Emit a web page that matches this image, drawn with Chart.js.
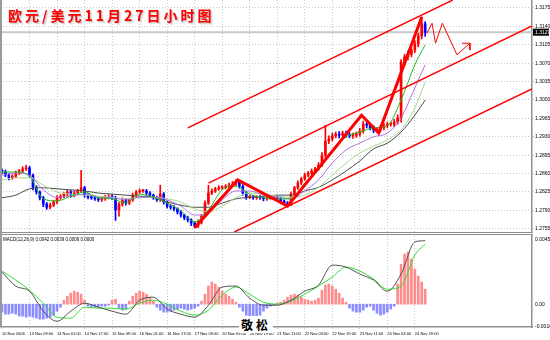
<!DOCTYPE html>
<html>
<head>
<meta charset="utf-8">
<script src="https://cdn.jsdelivr.net/npm/chart.js@4.4.0/dist/chart.umd.min.js"></script>
<style>
body { margin:0; background:#fff; width:550px; height:340px; overflow:hidden; position:relative; }
#main { position:absolute; left:0; top:0; }
#macd { position:absolute; left:0; top:235px; }
.sep { position:absolute; left:0; width:533px; height:1px; background:#8c8c8c; }
#leftline { position:absolute; left:0; top:0; width:2px; height:327px; background:#9a9a9a; }
#title { position:absolute; left:8px; top:5px; color:#f00; font:bold 14px "Noto Sans CJK SC"; letter-spacing:3px; text-shadow:1px 1px 0 #ccc, 2px 2px 1px #e4e4e4; }
#mark { position:absolute; left:239px; top:316px; font:bold 12px "Noto Sans CJK SC"; letter-spacing:3px; background:#fff; padding:0 2px; }
</style>
</head>
<body>
<canvas id="main" width="550" height="232"></canvas>
<div class="sep" style="top:232px"></div>
<div class="sep" style="top:234px"></div>
<canvas id="macd" width="550" height="105"></canvas>
<div id="leftline"></div>
<div id="title">欧元/美元11月27日小时图</div>
<div id="mark">敬松</div>
<script>
// hourly bar index of each tick label
const xTickBars = [0,16,32,48,64,80,96,112,128,144,160,176,192,208,224,240];
const xLabels = ['10 Nov 2006','13 Nov 09:00','14 Nov 01:00','14 Nov 17:00','15 Nov 09:00','16 Nov 01:00',
  '16 Nov 17:00','17 Nov 09:00','20 Nov 03:00','20 Nov 19:00','21 Nov 11:00','22 Nov 03:00',
  '22 Nov 19:00','23 Nov 11:00','24 Nov 03:00','24 Nov 19:00'];
const yTicks = [1.2755,1.2790,1.2825,1.2860,1.2895,1.2930,1.2965,1.3000,1.3035,1.3070,1.3105,1.3140,1.3175];
const macdTicks = [0.0045, 0, -0.0016];

// candles, one every 2 bars
const firstOpen = 1.2866;
const closes = [1.2863,1.2857,1.2852,1.2855,1.2861,1.2865,1.2869,1.2871,1.2857,1.2834,
 1.2825,1.2814,1.2802,1.2796,1.2800,1.2806,1.2814,1.2817,1.2821,1.2825,
 1.2819,1.2823,1.2827,1.2833,1.2819,1.2815,1.2814,1.2812,1.2810,1.2812,
 1.2815,1.2817,1.2814,1.2791,1.2802,1.2810,1.2804,1.2810,1.2819,1.2825,
 1.2827,1.2827,1.2823,1.2819,1.2814,1.2810,1.2821,1.2806,1.2798,1.2796,
 1.2793,1.2787,1.2781,1.2776,1.2772,1.2766,1.2760,1.2768,1.2779,1.2804,
 1.2823,1.2827,1.2831,1.2833,1.2834,1.2836,1.2838,1.2840,1.2844,1.2836,
 1.2823,1.2815,1.2815,1.2814,1.2815,1.2814,1.2812,1.2814,1.2814,1.2815,
 1.2812,1.2808,1.2804,1.2802,1.2821,1.2833,1.2842,1.2850,1.2857,1.2861,
 1.2865,1.2869,1.2876,1.2895,1.2922,1.2926,1.2932,1.2935,1.2933,1.2937,
 1.2933,1.2932,1.2933,1.2935,1.2941,1.2954,1.2952,1.2947,1.2943,1.2943,
 1.2947,1.2951,1.2954,1.2954,1.2958,1.2966,1.3072,1.3082,1.3087,1.3095,
 1.3107,1.3122,1.3145,1.3129];
// wick lengths in pips above / below the body
const wickUp = [3,4,3,3,4,3,4,5,3,2, 3,2,3,3,4,3,4,3,3,4, 3,4,3,33,3,3,2,3,3,3,
 4,3,3,3,3,4,3,3,4,3, 4,3,3,3,2,3,17,3,2,3, 3,2,3,2,3,2,3,4,3,4,
 15,4,3,4,3,3,4,5,4,3, 3,3,4,3,3,3,2,3,3,3, 3,3,2,3,4,3,4,3,4,3,
 4,3,5,5,30,6,5,4,5,4, 4,5,4,4,5,6,5,4,4,4, 4,5,4,4,5,6,5,5,6,5, 6,5,13,4];
const wickDown = [3,3,4,3,3,3,3,3,4,5, 4,4,5,4,3,3,3,3,3,3, 4,3,3,3,4,3,3,3,3,3,
 3,3,3,20,12,4,4,3,3,3, 3,3,4,3,3,3,3,4,4,4, 4,4,4,4,4,5,3,3,4,3,
 3,3,3,3,3,3,3,3,3,4, 4,4,3,3,3,3,4,3,3,3, 3,3,4,3,3,3,3,3,3,3,
 3,3,3,3,4,5,4,4,5,4, 4,4,5,4,4,4,5,4,5,4, 4,4,4,4,5,4,8,6,6,5, 5,6,6,8];

// moving averages, read every 8 bars
const maBars = [0,8,16,24,32,40,48,56,64,72,80,88,96,104,112,120,128,136,144,152,160,168,176,184,192,200,208,216,224,232,240,246];
const maFast = [1.2863,1.2863,1.2855,1.2812,1.2808,1.2817,1.2825,1.2814,1.2812,1.2804,1.2821,1.2815,1.2804,1.2789,1.2768,1.2791,
 1.2829,1.2836,1.2821,1.2814,1.2812,1.2812,1.2842,1.2867,1.2905,1.2930,1.2939,1.2947,1.2951,1.3000,1.3067,1.3105];
const maPurple = [1.2857,1.2861,1.2857,1.2829,1.2815,1.2817,1.2821,1.2815,1.2814,1.2810,1.2815,1.2815,1.2810,1.2798,1.2781,1.2785,
 1.2810,1.2827,1.2827,1.2819,1.2815,1.2812,1.2827,1.2848,1.2880,1.2905,1.2918,1.2930,1.2937,1.2966,1.3023,1.3067];
const maLight = [1.2848,1.2852,1.2852,1.2838,1.2825,1.2821,1.2819,1.2817,1.2815,1.2812,1.2814,1.2815,1.2812,1.2806,1.2793,1.2787,
 1.2798,1.2814,1.2823,1.2821,1.2817,1.2815,1.2819,1.2834,1.2857,1.2880,1.2899,1.2912,1.2924,1.2943,1.2985,1.3034];
const maSlow = [1.2814,1.2819,1.2831,1.2833,1.2831,1.2829,1.2827,1.2823,1.2821,1.2819,1.2817,1.2815,1.2806,1.2800,1.2796,1.2796,
 1.2804,1.2812,1.2815,1.2817,1.2819,1.2819,1.2827,1.2834,1.2848,1.2865,1.2884,1.2907,1.2918,1.2939,1.2971,1.3000];

// hand drawn analysis lines: [bar, price]
const channelUpper = [[108,1.2947],[262,1.3190]];
const channelMid = [[120,1.2842],[308.1,1.3141]];
const channelLower = [[135,1.2749],[308.1,1.3021]];
const zigzag = [[112,1.2757],[137,1.2848],[166,1.2798],[209,1.2971],[219,1.2937],[244,1.3158]];
const forecast = [[247,1.3127],[250,1.3146],[252,1.3108],[256,1.3146],[264.5,1.3086],[272,1.3108]];
const arrowHead = [[267.5,1.3108],[272,1.3108],[272,1.3095]];

// MACD(12,26,9)
const macdLine = [0.00225,0.00127,0.00091,-0.00049,-0.00120,-0.00049,0.00007,-0.00021,-0.00049,-0.00070,0.00028,0.00049,-0.00035,-0.00070,-0.00091,-0.00007,
 0.00120,0.00127,0.00042,-0.00007,-0.00007,0.00028,0.00091,0.00134,0.00274,0.00260,0.00211,0.00169,0.00091,0.00211,0.00436,0.00445];
const signalLine = [0.00232,0.00169,0.00098,0.00007,-0.00091,-0.00098,-0.00021,-0.00028,-0.00028,-0.00035,0.00007,0.00028,0,-0.00049,-0.00077,-0.00042,
 0.00063,0.00120,0.00070,0.00014,0,0.00021,0.00070,0.00127,0.00190,0.00260,0.00232,0.00176,0.00105,0.00127,0.00345,0.00420];
const hist = [-0.00056,-0.00070,-0.00070,-0.00063,-0.00070,-0.00084,-0.00084,-0.00091,-0.00084,-0.00091,
 -0.00098,-0.00105,-0.00105,-0.00098,-0.00091,-0.00077,-0.00049,-0.00021,0.00028,0.00056,
 0.00077,0.00091,0.00084,0.00070,0.00028,-0.00014,-0.00021,-0.00021,-0.00021,-0.00014,
 -0.00014,-0.00007,0.00028,0.00035,-0.00028,-0.00042,-0.00035,0.00021,0.00056,0.00077,
 0.00091,0.00084,0.00070,0.00049,0.00021,-0.00021,-0.00042,-0.00056,-0.00056,-0.00049,
 -0.00042,-0.00035,-0.00028,-0.00035,-0.00042,-0.00035,-0.00028,-0.00014,0.00021,0.00070,
 0.00127,0.00155,0.00141,0.00120,0.00091,0.00070,0.00056,0.00035,0.00014,-0.00021,
 -0.00049,-0.00077,-0.00098,-0.00105,-0.00098,-0.00077,-0.00049,-0.00028,-0.00014,-0.00007,
 0.00007,0.00014,0.00028,0.00049,0.00063,0.00070,0.00063,0.00049,0.00035,0.00028,
 0.00021,0.00028,0.00042,0.00098,0.00134,0.00141,0.00127,0.00105,0.00077,0.00042,
 0.00014,-0.00028,-0.00049,-0.00056,-0.00056,-0.00042,-0.00021,-0.00014,-0.00042,-0.00063,
 -0.00077,-0.00070,-0.00056,-0.00035,-0.00014,0.00141,0.00281,0.00352,0.00366,0.00316,
 0.00246,0.00197,0.00155,0.00105];
const macdText = 'MACD(12,26,9) 0.0042 0.0039 0.0006 0.0000';

const pip = 0.0001;
const barStep = 2;
const xMin = -1.16, xMax = 308.1;
const tickFont = {family: 'Liberation Sans', size: 5};

const opens = closes.map((c, i) => i ? closes[i - 1] : firstOpen);
const candleCols = closes.map((c, i) => c >= opens[i] ? '#ff0000' : '#0000ff');
const wickData = closes.map((c, i) => ({x: i * barStep, y: [Math.min(c, opens[i]) - wickDown[i] * pip, Math.max(c, opens[i]) + wickUp[i] * pip]}));
const bodyData = closes.map((c, i) => ({x: i * barStep, y: [opens[i], c]}));
const pts = (bars, vals) => bars.map((b, i) => ({x: b, y: vals[i]}));
const pairs = arr => arr.map(p => ({x: p[0], y: p[1]}));

// smooth indicator line
function curve(data, color, width, order) {
    return {type: 'line', data: data, borderColor: color, borderWidth: width, pointRadius: 0,
        fill: false, order: order, cubicInterpolationMode: 'monotone'};
}
// straight drawn line
function seg(data, color, width, order) {
    return {type: 'line', data: data, borderColor: color, borderWidth: width, pointRadius: 0,
        fill: false, order: order, tension: 0, borderJoinStyle: 'miter'};
}

const lastClose = closes[closes.length - 1];

const bidPlugin = {
    id: 'bid',
    beforeDatasetsDraw(chart) {
        const {ctx, chartArea: a, scales: {y}} = chart;
        const py = y.getPixelForValue(lastClose);
        ctx.save();
        ctx.strokeStyle = '#c8c8c8';
        ctx.lineWidth = 2;
        ctx.beginPath(); ctx.moveTo(a.left, py); ctx.lineTo(a.right, py); ctx.stroke();
        ctx.restore();
    },
    afterDraw(chart) {
        const {ctx, chartArea: a, scales: {y}} = chart;
        const py = y.getPixelForValue(lastClose);
        ctx.save();
        ctx.fillStyle = '#000';
        ctx.fillRect(a.right + 1, py - 3.5, 16, 7);
        ctx.fillStyle = '#fff';
        ctx.font = '5px "Liberation Sans"';
        ctx.textBaseline = 'middle';
        ctx.fillText(lastClose.toFixed(4), a.right + 3, py + 0.5);
        ctx.restore();
    }
};

const mainChart = new Chart(document.getElementById('main'), {
    type: 'line',
    data: {
        datasets: [
            seg(pairs(zigzag), '#ff0000', 3, 0),
            seg(pairs(forecast), '#ff0000', 1, 1),
            seg(pairs(arrowHead), '#ff0000', 1, 1),
            seg(pairs(channelUpper), '#ff0000', 1.5, 2),
            seg(pairs(channelMid), '#ff0000', 1.5, 2),
            seg(pairs(channelLower), '#ff0000', 1.5, 2),
            curve(pts(maBars, maFast), '#22bb22', 1, 3),
            curve(pts(maBars, maPurple), '#b070e0', 1, 4),
            curve(pts(maBars, maLight), '#a8d890', 1, 5),
            curve(pts(maBars, maSlow), '#4a4a4a', 1, 6),
            {type: 'bar', data: bodyData, backgroundColor: candleCols, barThickness: 2, minBarLength: 1, grouped: false, order: 7},
            {type: 'bar', data: wickData, backgroundColor: candleCols, barThickness: 1, grouped: false, order: 8}
        ]
    },
    options: {
        responsive: false,
        animation: false,
        layout: {padding: 0},
        plugins: {legend: {display: false}, tooltip: {enabled: false}},
        scales: {
            x: {
                type: 'linear', min: xMin, max: xMax, offset: false, bounds: 'data',
                afterBuildTicks: s => { s.ticks = xTickBars.map(v => ({value: v})); },
                afterFit: s => { s.height = 0; s.paddingLeft = 0; s.paddingRight = 0; },
                ticks: {display: false},
                grid: {color: '#c8c8c8', drawTicks: false, offset: false},
                border: {display: false, dash: [1, 2]}
            },
            y: {
                position: 'right', min: 1.27489, max: 1.31902, bounds: 'data',
                afterBuildTicks: s => { s.ticks = yTicks.map(v => ({value: v})); },
                afterFit: s => { s.width = 18; s.paddingTop = 0; s.paddingBottom = 0; },
                ticks: {font: tickFont, color: '#000', padding: 1, callback: v => v.toFixed(4)},
                grid: {color: '#c8c8c8', tickLength: 2},
                border: {color: '#909090', width: 1.5, dash: [1, 2]}
            }
        }
    },
    plugins: [bidPlugin]
});

const macdLabelPlugin = {
    id: 'macdLabel',
    afterDraw(chart) {
        const {ctx, chartArea: a} = chart;
        ctx.save();
        ctx.fillStyle = '#000';
        ctx.font = '4.5px "Liberation Sans"';
        ctx.textBaseline = 'middle';
        ctx.fillText(macdText, a.left + 3, a.top + 4);
        ctx.restore();
    }
};

const macdChart = new Chart(document.getElementById('macd'), {
    type: 'line',
    data: {
        datasets: [
            curve(pts(maBars, macdLine), '#505050', 1, 0),
            curve(pts(maBars, signalLine), '#33dd33', 1, 1),
            {type: 'bar', data: hist.map((v, i) => ({x: i * barStep, y: v})),
             backgroundColor: hist.map(v => v >= 0 ? '#ff8c8c' : '#8c8cff'), barThickness: 2, grouped: false, order: 2}
        ]
    },
    options: {
        responsive: false,
        animation: false,
        layout: {padding: {top: 1}},
        plugins: {legend: {display: false}, tooltip: {enabled: false}},
        scales: {
            x: {
                type: 'linear', min: xMin, max: xMax, offset: false, bounds: 'data',
                afterBuildTicks: s => { s.ticks = xTickBars.map(v => ({value: v})); },
                afterFit: s => { s.height = 13; s.paddingLeft = 0; s.paddingRight = 0; },
                ticks: {font: {family: 'Liberation Sans', size: 4}, color: '#000', padding: 2,
                    align: 'start', autoSkip: false, maxRotation: 0, minRotation: 0,
                    callback: (v, i) => xLabels[i]},
                grid: {color: '#c8c8c8', tickLength: 2, offset: false},
                border: {color: '#909090', width: 1.5, dash: [1, 2]}
            },
            y: {
                position: 'right', min: -0.0016, max: 0.00478, bounds: 'data',
                afterBuildTicks: s => { s.ticks = macdTicks.map(v => ({value: v})); },
                afterFit: s => { s.width = 18; s.paddingTop = 0; s.paddingBottom = 0; },
                ticks: {font: tickFont, color: '#000', padding: 1,
                    callback: v => v === 0 ? '0.00' : v.toFixed(4)},
                grid: {display: false, tickLength: 2},
                border: {color: '#909090', width: 1.5}
            }
        }
    },
    plugins: [macdLabelPlugin]
});
</script>
</body>
</html>
